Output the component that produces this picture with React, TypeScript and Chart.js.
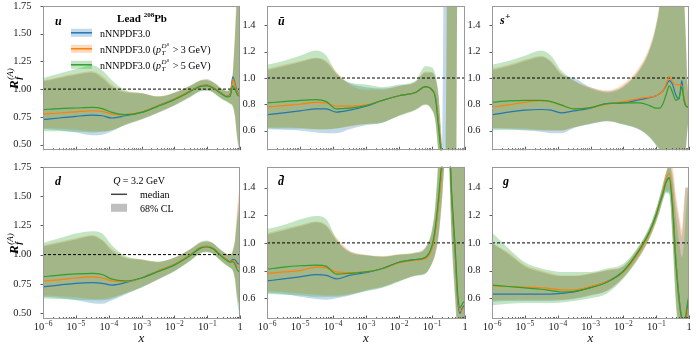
import React, { useEffect, useRef } from 'react';
import { Chart, registerables } from 'chart.js';

Chart.register(...registerables);

const FONT = '"Liberation Serif", "DejaVu Serif", serif';
Chart.defaults.font.family = FONT;

// ---------- x grid (log10 x = -6 ... 0) ----------
const X = [1e-6, 3.162e-6, 1e-5, 3.162e-5, 6.31e-5, 1.259e-4, 3.162e-4, 1e-3, 3.162e-3, 1e-2, 3.162e-2, 6.31e-2, 0.1, 0.1259, 0.1585, 0.1995, 0.2512, 0.3162, 0.3981, 0.5012, 0.6026, 0.7079, 0.7943, 0.8913, 1.0];

const X_TICKS = [1e-6, 1e-5, 1e-4, 1e-3, 1e-2, 1e-1, 1];
const X_TICK_BASE = ['10', '10', '10', '10', '10', '10', '1'];
const X_TICK_EXP = ['\u22126', '\u22125', '\u22124', '\u22123', '\u22122', '\u22121', ''];
const X_MINOR_MULT = [2, 3, 4, 5, 6, 7, 8, 9];
const REF_X = [1e-6, 1];
const REF_Y = [1, 1];
const Y_TICKS_WIDE = [0.5, 0.75, 1.0, 1.25, 1.5, 1.75];
const Y_TICKS_NARROW = [0.6, 0.8, 1.0, 1.2, 1.4];

const COLORS = ['#1f77b4', '#ff7f0e', '#2ca02c'];
const FILLS = ['rgba(31,119,180,0.28)', 'rgba(255,127,14,0.28)', 'rgba(44,160,44,0.28)'];

// ---------- u ----------
const U_BLUE_MID = [0.725, 0.74, 0.755, 0.765, 0.76, 0.74, 0.76, 0.79, 0.85, 0.91, 0.985, 1.03, 1.035, 1.025, 1.01, 0.99, 0.97, 0.95, 0.935, 0.95, 1.11, 1.05, 0.99, 0.96, 0.95];
const U_ORANGE_MID = [0.775, 0.785, 0.795, 0.805, 0.80, 0.775, 0.77, 0.795, 0.85, 0.91, 0.985, 1.03, 1.035, 1.025, 1.01, 0.99, 0.97, 0.95, 0.935, 0.945, 1.09, 1.035, 0.98, 0.955, 0.945];
const U_GREEN_MID = [0.815, 0.825, 0.83, 0.835, 0.825, 0.79, 0.77, 0.79, 0.845, 0.905, 0.98, 1.025, 1.03, 1.02, 1.005, 0.985, 0.965, 0.945, 0.93, 0.935, 1.03, 1.0, 0.96, 0.94, 0.935];
const U_BLUE_HI = [1.07, 1.10, 1.13, 1.15, 1.10, 1.02, 0.97, 0.96, 0.93, 0.965, 1.03, 1.075, 1.08, 1.07, 1.055, 1.035, 1.01, 0.99, 0.98, 1.0, 1.15, 1.5, 1.8, 1.95, 2.0];
const U_BLUE_LO = [0.64, 0.63, 0.61, 0.585, 0.59, 0.62, 0.68, 0.73, 0.79, 0.855, 0.935, 0.985, 0.99, 0.985, 0.97, 0.945, 0.925, 0.905, 0.89, 0.87, 0.85, 0.76, 0.62, 0.52, 0.45];
const U_ORANGE_HI = [1.08, 1.11, 1.14, 1.16, 1.12, 1.04, 0.98, 0.965, 0.935, 0.97, 1.035, 1.08, 1.085, 1.075, 1.06, 1.04, 1.015, 0.995, 0.985, 1.0, 1.15, 1.55, 1.85, 2.0, 2.0];
const U_ORANGE_LO = [0.65, 0.645, 0.635, 0.62, 0.62, 0.635, 0.68, 0.73, 0.79, 0.855, 0.935, 0.985, 0.99, 0.98, 0.965, 0.945, 0.925, 0.905, 0.89, 0.87, 0.85, 0.75, 0.6, 0.5, 0.45];
const U_GREEN_HI = [1.10, 1.14, 1.18, 1.215, 1.17, 1.08, 0.99, 0.965, 0.935, 0.97, 1.035, 1.08, 1.09, 1.08, 1.06, 1.04, 1.015, 0.995, 0.985, 1.0, 1.12, 1.45, 1.75, 1.9, 2.0];
const U_GREEN_LO = [0.62, 0.62, 0.615, 0.61, 0.615, 0.63, 0.675, 0.725, 0.785, 0.85, 0.93, 0.98, 0.985, 0.98, 0.965, 0.94, 0.92, 0.90, 0.885, 0.865, 0.84, 0.74, 0.58, 0.47, 0.40];

// ---------- ubar ----------
const UB_BLUE_MID = [0.72, 0.735, 0.75, 0.765, 0.765, 0.74, 0.755, 0.785, 0.83, 0.865, 0.89, 0.935, 0.91, 0.86, 0.65, 0.38, 0, 0, 0, 0, 0, 0, 0, 0, 0];
const UB_ORANGE_MID = [0.78, 0.79, 0.80, 0.815, 0.81, 0.785, 0.785, 0.795, 0.83, 0.865, 0.89, 0.935, 0.91, 0.86, 0.65, 0.38, 0, 0, 0, 0, 0, 0, 0, 0, 0];
const UB_GREEN_MID = [0.81, 0.82, 0.83, 0.835, 0.82, 0.765, 0.77, 0.79, 0.83, 0.865, 0.89, 0.935, 0.91, 0.85, 0.62, 0.35, 0, 0, 0, 0, 0, 0, 0, 0, 0];
const UB_BLUE_HI = [1.06, 1.09, 1.12, 1.15, 1.12, 1.03, 0.96, 0.93, 0.92, 0.94, 0.97, 1.04, 1.04, 1.0, 0.85, 0.5, 3, 3, 3, 3, 3, 3, 3, 3, 3];
const UB_BLUE_LO = [0.61, 0.605, 0.60, 0.585, 0.58, 0.58, 0.61, 0.64, 0.66, 0.715, 0.76, 0.80, 0.76, 0.68, 0.42, 0.1, -1, -1, -1, -1, 2, 2, 2, 2, 2];
const UB_ORANGE_HI = [1.07, 1.10, 1.13, 1.155, 1.13, 1.05, 0.95, 0.91, 0.91, 0.94, 0.97, 1.05, 1.045, 1.0, 0.85, 0.5, 0.2, 3, 3, 3, 3, 3, 3, 3, 3];
const UB_ORANGE_LO = [0.625, 0.625, 0.62, 0.61, 0.61, 0.615, 0.63, 0.65, 0.665, 0.715, 0.76, 0.80, 0.76, 0.68, 0.42, 0.1, -1, -1, -1, -1, 2, 2, 2, 2, 2];
const UB_GREEN_HI = [1.10, 1.13, 1.17, 1.21, 1.17, 1.04, 0.965, 0.95, 0.93, 0.95, 0.98, 1.09, 1.08, 1.03, 0.87, 0.5, 0.2, 3, 3, 3, 3, 3, 3, 3, 3];
const UB_GREEN_LO = [0.62, 0.615, 0.615, 0.61, 0.61, 0.615, 0.635, 0.65, 0.66, 0.71, 0.755, 0.795, 0.75, 0.67, 0.40, 0.08, -1, -1, -1, -1, 2, 2, 2, 2, 2];

// ---------- s+ ----------
const SP_BLUE_MID = [0.72, 0.74, 0.755, 0.76, 0.755, 0.735, 0.75, 0.77, 0.805, 0.81, 0.835, 0.85, 0.865, 0.88, 0.90, 0.94, 0.98, 0.95, 0.87, 0.84, 0.98, 0.83, 0.79, 0.78, 0.78];
const SP_ORANGE_MID = [0.78, 0.795, 0.815, 0.825, 0.82, 0.795, 0.765, 0.775, 0.80, 0.82, 0.845, 0.855, 0.865, 0.88, 0.90, 0.95, 1.01, 0.97, 0.95, 0.95, 0.94, 0.85, 0.80, 0.78, 0.78];
const SP_GREEN_MID = [0.815, 0.825, 0.83, 0.83, 0.82, 0.795, 0.765, 0.775, 0.805, 0.81, 0.81, 0.79, 0.77, 0.77, 0.80, 0.87, 0.94, 0.89, 0.83, 0.85, 0.93, 0.83, 0.79, 0.78, 0.78];
const SP_BLUE_HI = [1.06, 1.09, 1.13, 1.16, 1.12, 1.03, 1.0, 0.93, 0.90, 0.94, 1.07, 1.22, 1.40, 1.55, 1.9, 2, 2, 2, 2, 2, 2, 1.6, 1.3, 0.95, 0.85];
const SP_ORANGE_HI = [1.07, 1.10, 1.14, 1.17, 1.13, 1.04, 0.98, 0.93, 0.905, 0.955, 1.09, 1.24, 1.42, 1.57, 1.9, 2, 2, 2, 2, 2, 2, 1.65, 1.35, 1.0, 0.88];
const SP_GREEN_HI = [1.10, 1.13, 1.17, 1.21, 1.17, 1.06, 0.98, 0.92, 0.89, 0.93, 1.06, 1.21, 1.39, 1.55, 1.9, 2, 2, 2, 2, 2, 2, 1.6, 1.3, 0.95, 0.85];
const SP_BLUE_LO = [0.615, 0.61, 0.60, 0.59, 0.58, 0.58, 0.62, 0.65, 0.67, 0.645, 0.605, 0.55, 0.49, 0.46, 0.42, 0.38, 0.35, 0.3, 0.3, 0.3, 0.3, 0.35, 0.45, 0.6, 0.72];
const SP_ORANGE_LO = [0.62, 0.62, 0.615, 0.605, 0.60, 0.60, 0.625, 0.655, 0.675, 0.65, 0.61, 0.555, 0.495, 0.46, 0.42, 0.38, 0.35, 0.3, 0.3, 0.3, 0.3, 0.35, 0.45, 0.6, 0.72];
const SP_GREEN_LO = [0.60, 0.605, 0.605, 0.60, 0.60, 0.60, 0.625, 0.65, 0.67, 0.645, 0.605, 0.545, 0.485, 0.45, 0.42, 0.40, 0.44, 0.46, 0.42, 0.35, 0.3, 0.35, 0.45, 0.6, 0.72];

// ---------- d ----------
const D_BLUE_MID = [0.725, 0.74, 0.755, 0.76, 0.755, 0.74, 0.76, 0.80, 0.86, 0.915, 1.0, 1.06, 1.07, 1.065, 1.05, 1.025, 1.0, 0.975, 0.955, 0.94, 0.96, 0.955, 0.935, 0.92, 0.92];
const D_ORANGE_MID = [0.775, 0.785, 0.80, 0.81, 0.80, 0.775, 0.77, 0.80, 0.86, 0.915, 1.0, 1.06, 1.07, 1.065, 1.05, 1.025, 1.0, 0.975, 0.955, 0.94, 0.95, 0.935, 0.905, 0.89, 0.89];
const D_GREEN_MID = [0.81, 0.825, 0.835, 0.84, 0.83, 0.79, 0.775, 0.80, 0.855, 0.91, 0.995, 1.055, 1.065, 1.06, 1.045, 1.02, 0.995, 0.97, 0.95, 0.935, 0.94, 0.915, 0.88, 0.86, 0.85];
const D_BLUE_HI = [1.07, 1.10, 1.13, 1.16, 1.12, 1.03, 0.97, 0.955, 0.935, 0.97, 1.045, 1.10, 1.11, 1.105, 1.09, 1.065, 1.04, 1.02, 1.0, 0.99, 1.03, 1.12, 1.28, 1.42, 1.5];
const D_ORANGE_HI = [1.08, 1.11, 1.14, 1.165, 1.13, 1.05, 0.98, 0.96, 0.94, 0.975, 1.05, 1.105, 1.115, 1.11, 1.095, 1.07, 1.045, 1.025, 1.005, 0.995, 1.04, 1.15, 1.35, 1.5, 1.6];
const D_GREEN_HI = [1.10, 1.14, 1.18, 1.20, 1.18, 1.08, 0.99, 0.96, 0.94, 0.975, 1.05, 1.11, 1.12, 1.11, 1.095, 1.07, 1.045, 1.025, 1.005, 0.995, 1.03, 1.12, 1.25, 1.35, 1.4];
const D_BLUE_LO = [0.64, 0.63, 0.61, 0.585, 0.58, 0.61, 0.66, 0.72, 0.79, 0.86, 0.955, 1.015, 1.025, 1.02, 1.005, 0.98, 0.955, 0.93, 0.91, 0.89, 0.87, 0.80, 0.68, 0.60, 0.58];
const D_ORANGE_LO = [0.65, 0.645, 0.635, 0.62, 0.62, 0.635, 0.67, 0.725, 0.79, 0.86, 0.955, 1.015, 1.025, 1.02, 1.005, 0.98, 0.955, 0.93, 0.91, 0.89, 0.865, 0.79, 0.66, 0.58, 0.55];
const D_GREEN_LO = [0.625, 0.62, 0.615, 0.61, 0.61, 0.625, 0.665, 0.72, 0.785, 0.855, 0.95, 1.01, 1.02, 1.015, 1.0, 0.975, 0.95, 0.925, 0.905, 0.885, 0.86, 0.77, 0.63, 0.53, 0.50];

// ---------- dbar ----------
const DB_BLUE_MID = [0.725, 0.74, 0.755, 0.77, 0.765, 0.74, 0.765, 0.785, 0.815, 0.86, 0.88, 0.895, 0.97, 1.09, 1.30, 1.55, 1.8, 1.8, 1.30, 0.93, 0.58, 0.49, 0.52, 0.54, 0.55];
const DB_ORANGE_MID = [0.78, 0.79, 0.80, 0.825, 0.82, 0.79, 0.785, 0.79, 0.815, 0.855, 0.875, 0.885, 0.96, 1.08, 1.28, 1.53, 1.8, 1.8, 1.32, 0.95, 0.60, 0.51, 0.51, 0.53, 0.54];
const DB_GREEN_MID = [0.81, 0.825, 0.835, 0.84, 0.83, 0.775, 0.78, 0.79, 0.815, 0.86, 0.88, 0.895, 0.98, 1.11, 1.33, 1.60, 1.8, 1.8, 1.35, 0.98, 0.63, 0.53, 0.55, 0.57, 0.58];
const DB_BLUE_HI = [1.06, 1.09, 1.12, 1.15, 1.12, 1.02, 0.94, 0.91, 0.90, 0.915, 0.925, 0.96, 1.08, 1.25, 1.6, 2, 2, 2, 2, 2, 2, 2, 2, 2, 2];
const DB_ORANGE_HI = [1.07, 1.10, 1.13, 1.155, 1.13, 1.04, 0.945, 0.915, 0.905, 0.92, 0.93, 0.965, 1.09, 1.26, 1.6, 2, 2, 2, 2, 2, 2, 2, 2, 2, 2];
const DB_GREEN_HI = [1.10, 1.13, 1.17, 1.195, 1.17, 1.03, 0.93, 0.91, 0.90, 0.915, 0.93, 0.97, 1.10, 1.28, 1.65, 2, 2, 2, 2, 2, 2, 2, 2, 2, 2];
const DB_BLUE_LO = [0.64, 0.63, 0.61, 0.595, 0.59, 0.60, 0.62, 0.655, 0.68, 0.725, 0.765, 0.78, 0.85, 0.92, 1.05, 1.30, 1.6, 1.6, 1.0, 0.6, 0.35, 0.35, 0.35, 0.4, 0.45];
const DB_ORANGE_LO = [0.65, 0.645, 0.635, 0.625, 0.62, 0.62, 0.63, 0.66, 0.685, 0.725, 0.765, 0.78, 0.85, 0.91, 1.04, 1.28, 1.6, 1.6, 1.0, 0.6, 0.35, 0.35, 0.35, 0.4, 0.45];
const DB_GREEN_LO = [0.63, 0.625, 0.62, 0.61, 0.61, 0.61, 0.625, 0.65, 0.675, 0.72, 0.76, 0.775, 0.86, 0.93, 1.07, 1.32, 1.6, 1.6, 1.05, 0.65, 0.38, 0.35, 0.35, 0.4, 0.45];

// ---------- g ----------
const G_BLUE_MID = [0.63, 0.63, 0.63, 0.63, 0.63, 0.635, 0.645, 0.68, 0.72, 0.795, 0.95, 1.08, 1.20, 1.28, 1.36, 1.44, 1.47, 1.28, 0.88, 0.60, 0.45, 0.41, 0.44, 0.53, 0.60];
const G_ORANGE_MID = [0.69, 0.685, 0.68, 0.675, 0.67, 0.66, 0.66, 0.685, 0.72, 0.79, 0.94, 1.07, 1.19, 1.27, 1.36, 1.46, 1.50, 1.30, 0.88, 0.58, 0.44, 0.40, 0.42, 0.50, 0.56];
const G_GREEN_MID = [0.695, 0.685, 0.675, 0.665, 0.655, 0.645, 0.65, 0.675, 0.715, 0.795, 0.955, 1.08, 1.20, 1.28, 1.35, 1.44, 1.47, 1.25, 0.85, 0.58, 0.45, 0.43, 0.47, 0.56, 0.62];
const G_BLUE_HI = [1.0, 0.92, 0.83, 0.79, 0.77, 0.76, 0.76, 0.775, 0.80, 0.83, 0.98, 1.11, 1.24, 1.32, 1.41, 1.50, 1.56, 1.50, 1.30, 1.15, 1.05, 1.25, 1.4, 1.4, 1.4];
const G_ORANGE_HI = [1.0, 0.93, 0.84, 0.80, 0.78, 0.765, 0.765, 0.78, 0.805, 0.835, 0.985, 1.115, 1.245, 1.33, 1.42, 1.51, 1.58, 1.55, 1.35, 1.2, 1.1, 1.3, 1.4, 1.4, 1.4];
const G_GREEN_HI = [1.075, 0.96, 0.86, 0.815, 0.80, 0.79, 0.79, 0.79, 0.815, 0.85, 0.99, 1.12, 1.25, 1.33, 1.42, 1.51, 1.56, 1.45, 1.20, 1.0, 0.9, 1.0, 1.2, 1.35, 1.45];
const G_BLUE_LO = [0.575, 0.58, 0.58, 0.58, 0.58, 0.585, 0.595, 0.62, 0.655, 0.75, 0.91, 1.04, 1.16, 1.23, 1.31, 1.37, 1.36, 1.05, 0.6, 0.35, 0.3, 0.3, 0.3, 0.35, 0.4];
const G_ORANGE_LO = [0.585, 0.59, 0.59, 0.59, 0.59, 0.59, 0.60, 0.625, 0.655, 0.75, 0.905, 1.035, 1.155, 1.225, 1.31, 1.38, 1.38, 1.05, 0.6, 0.35, 0.3, 0.3, 0.3, 0.35, 0.4];
const G_GREEN_LO = [0.55, 0.56, 0.565, 0.565, 0.565, 0.57, 0.58, 0.60, 0.635, 0.74, 0.90, 1.03, 1.15, 1.22, 1.30, 1.36, 1.35, 1.0, 0.55, 0.33, 0.3, 0.3, 0.3, 0.35, 0.4];

type PanelDef = {
  name: string; row: number; col: number; ymin: number; ymax: number;
  yticks: number[]; dec: number; mid: number[][]; lo: number[][]; hi: number[][];
};

const PANELS: PanelDef[] = [
  { name: 'u', row: 0, col: 0, ymin: 0.45, ymax: 1.75, yticks: Y_TICKS_WIDE, dec: 2,
    mid: [U_BLUE_MID, U_ORANGE_MID, U_GREEN_MID], lo: [U_BLUE_LO, U_ORANGE_LO, U_GREEN_LO], hi: [U_BLUE_HI, U_ORANGE_HI, U_GREEN_HI] },
  { name: 'ubar', row: 0, col: 1, ymin: 0.45, ymax: 1.55, yticks: Y_TICKS_NARROW, dec: 1,
    mid: [UB_BLUE_MID, UB_ORANGE_MID, UB_GREEN_MID], lo: [UB_BLUE_LO, UB_ORANGE_LO, UB_GREEN_LO], hi: [UB_BLUE_HI, UB_ORANGE_HI, UB_GREEN_HI] },
  { name: 'splus', row: 0, col: 2, ymin: 0.45, ymax: 1.55, yticks: Y_TICKS_NARROW, dec: 1,
    mid: [SP_BLUE_MID, SP_ORANGE_MID, SP_GREEN_MID], lo: [SP_BLUE_LO, SP_ORANGE_LO, SP_GREEN_LO], hi: [SP_BLUE_HI, SP_ORANGE_HI, SP_GREEN_HI] },
  { name: 'd', row: 1, col: 0, ymin: 0.45, ymax: 1.75, yticks: Y_TICKS_WIDE, dec: 2,
    mid: [D_BLUE_MID, D_ORANGE_MID, D_GREEN_MID], lo: [D_BLUE_LO, D_ORANGE_LO, D_GREEN_LO], hi: [D_BLUE_HI, D_ORANGE_HI, D_GREEN_HI] },
  { name: 'dbar', row: 1, col: 1, ymin: 0.45, ymax: 1.55, yticks: Y_TICKS_NARROW, dec: 1,
    mid: [DB_BLUE_MID, DB_ORANGE_MID, DB_GREEN_MID], lo: [DB_BLUE_LO, DB_ORANGE_LO, DB_GREEN_LO], hi: [DB_BLUE_HI, DB_ORANGE_HI, DB_GREEN_HI] },
  { name: 'g', row: 1, col: 2, ymin: 0.45, ymax: 1.55, yticks: Y_TICKS_NARROW, dec: 1,
    mid: [G_BLUE_MID, G_ORANGE_MID, G_GREEN_MID], lo: [G_BLUE_LO, G_ORANGE_LO, G_GREEN_LO], hi: [G_BLUE_HI, G_ORANGE_HI, G_GREEN_HI] },
];

// ---------- layout ----------
const COLS = [{ l: 43, r: 240 }, { l: 267, r: 465 }, { l: 492, r: 689 }];
const ROWS = [{ t: 4, b: 158 }, { t: 165, b: 319 }];
const PAD_T = 8;
const PAD_R = 8;

function geom(p: PanelDef) {
  const c = COLS[p.col], r = ROWS[p.row];
  const leftW = p.col === 0 ? 43 : 40;
  const bottomH = p.row === 0 ? 2 : 348 - r.b;
  return {
    leftW, bottomH,
    l: c.l - leftW, t: r.t - PAD_T,
    w: leftW + (c.r - c.l) + PAD_R,
    h: PAD_T + (r.b - r.t) + bottomH,
  };
}

const pts = (arr: number[]) => X.map((x, i) => ({ x, y: arr[i] }));

function fnt(style: string, size: number) {
  return `${style} ${size}px ${FONT}`;
}

function seg(ctx: CanvasRenderingContext2D, text: string, font: string, x: number, y: number) {
  ctx.font = font;
  ctx.fillText(text, x, y);
  return ctx.measureText(text).width;
}

function width(ctx: CanvasRenderingContext2D, text: string, font: string) {
  ctx.font = font;
  return ctx.measureText(text).width;
}

function drawPT(ctx: CanvasRenderingContext2D, x: number, y: number, gev: string) {
  let cx = x;
  cx += seg(ctx, 'nNNPDF3.0 (', fnt('', 10), cx, y);
  cx += seg(ctx, 'p', fnt('italic', 10), cx, y);
  let ws = seg(ctx, 'D', fnt('italic', 7), cx + 0.5, y - 4.5);
  ws += seg(ctx, '0', fnt('', 5), cx + 0.5 + ws, y - 7);
  const wt = seg(ctx, 'T', fnt('italic', 7), cx + 0.5, y + 2.5);
  cx += Math.max(ws, wt) + 1.5;
  seg(ctx, ' > ' + gev + ' GeV)', fnt('', 10), cx, y);
}

function decor(p: PanelDef) {
  return {
    id: 'decor',
    afterDraw(chart: any) {
      const ctx: CanvasRenderingContext2D = chart.ctx;
      const a = chart.chartArea;
      const xs = chart.scales.x, ys = chart.scales.y;
      ctx.save();
      // tick marks
      ctx.strokeStyle = '#333';
      ctx.lineWidth = 0.8;
      ctx.beginPath();
      X_TICKS.forEach((v) => {
        const px = Math.round(xs.getPixelForValue(v)) + 0.5;
        ctx.moveTo(px, a.bottom); ctx.lineTo(px, a.bottom - 3.5);
      });
      X_TICKS.slice(0, -1).forEach((d) => X_MINOR_MULT.forEach((m) => {
        const px = Math.round(xs.getPixelForValue(d * m)) + 0.5;
        ctx.moveTo(px, a.bottom); ctx.lineTo(px, a.bottom - 2);
      }));
      p.yticks.forEach((v) => {
        const py = Math.round(ys.getPixelForValue(v)) + 0.5;
        ctx.moveTo(a.left, py); ctx.lineTo(a.left - 2.5, py);
      });
      ctx.stroke();
      // frame
      ctx.strokeStyle = '#9a9a9a';
      ctx.lineWidth = 1;
      ctx.strokeRect(Math.round(a.left) + 0.5, Math.round(a.top) + 0.5, Math.round(a.right - a.left) - 1, Math.round(a.bottom - a.top) - 1);

      const L = a.left, T = a.top;
      ctx.textBaseline = 'alphabetic';
      ctx.textAlign = 'left';

      // x tick labels (bottom row)
      if (p.row === 1) {
        ctx.fillStyle = '#222';
        X_TICKS.forEach((v, i) => {
          const px = xs.getPixelForValue(v);
          const fb = fnt('', 10.5), fe = fnt('', 7.5);
          const wb = width(ctx, X_TICK_BASE[i], fb);
          const we = X_TICK_EXP[i] ? width(ctx, X_TICK_EXP[i], fe) : 0;
          const x0 = px - (wb + we) / 2;
          seg(ctx, X_TICK_BASE[i], fb, x0, a.bottom + 11);
          if (we) seg(ctx, X_TICK_EXP[i], fe, x0 + wb + 0.3, a.bottom + 6.5);
        });
      }

      ctx.fillStyle = '#000';
      const lab = fnt('bold italic', 12);
      // panel labels
      if (p.name === 'u') seg(ctx, 'u', lab, L + 12, T + 19);
      if (p.name === 'ubar') seg(ctx, 'ū', lab, L + 11, T + 19);
      if (p.name === 'splus') {
        const w = seg(ctx, 's', lab, L + 8, T + 18);
        seg(ctx, '+', fnt('bold', 9), L + 8 + w + 0.5, T + 13);
      }
      if (p.name === 'd') seg(ctx, 'd', lab, L + 12, T + 18);
      if (p.name === 'dbar') seg(ctx, 'd\u0304', lab, L + 11, T + 18);
      if (p.name === 'g') seg(ctx, 'g', lab, L + 11, T + 18);

      // legend: fits
      if (p.name === 'u') {
        const w1 = width(ctx, 'Lead ', fnt('bold', 11));
        const w2 = width(ctx, '208', fnt('bold', 7));
        const w3 = width(ctx, 'Pb', fnt('bold', 11));
        let cx = L + 99 - (w1 + w2 + w3) / 2;
        cx += seg(ctx, 'Lead ', fnt('bold', 11), cx, T + 16);
        cx += seg(ctx, '208', fnt('bold', 7), cx, T + 11.5);
        seg(ctx, 'Pb', fnt('bold', 11), cx, T + 16);
        const gevs = ['', '3', '5'];
        for (let i = 0; i < 3; i++) {
          const yc = T + 27 + 16 * i;
          ctx.fillStyle = FILLS[i];
          ctx.fillRect(L + 28, yc - 4, 21, 8);
          ctx.strokeStyle = COLORS[i];
          ctx.lineWidth = 1.5;
          ctx.beginPath(); ctx.moveTo(L + 28, yc); ctx.lineTo(L + 49, yc); ctx.stroke();
          ctx.fillStyle = '#000';
          if (i === 0) seg(ctx, 'nNNPDF3.0', fnt('', 10), L + 57, yc + 4);
          else drawPT(ctx, L + 57, yc + 4, gevs[i]);
        }
      }
      // legend: scale / median / CL
      if (p.name === 'd') {
        const wq = width(ctx, 'Q', fnt('italic', 10));
        const wr = width(ctx, ' = 3.2 GeV', fnt('', 10));
        let cx = L + 96 - (wq + wr) / 2;
        cx += seg(ctx, 'Q', fnt('italic', 10), cx, T + 17);
        seg(ctx, ' = 3.2 GeV', fnt('', 10), cx, T + 17);
        ctx.strokeStyle = '#444';
        ctx.lineWidth = 1.5;
        ctx.beginPath(); ctx.moveTo(L + 68, T + 27.5); ctx.lineTo(L + 84, T + 27.5); ctx.stroke();
        seg(ctx, 'median', fnt('', 10), L + 97, T + 31);
        ctx.fillStyle = 'rgba(128,128,128,0.5)';
        ctx.fillRect(L + 68, T + 37, 16, 8);
        ctx.fillStyle = '#000';
        seg(ctx, '68% CL', fnt('', 10), L + 97, T + 45.5);
      }
      // y title
      if (p.col === 0) {
        const my = (a.top + a.bottom) / 2;
        ctx.translate(L - 30, my);
        ctx.rotate(-Math.PI / 2);
        let cx = -11;
        cx += seg(ctx, 'R', fnt('bold italic', 13), cx, 5);
        seg(ctx, '(A)', fnt('italic', 9), cx + 0.5, -0.5);
        seg(ctx, 'f', fnt('bold italic', 9), cx + 0.5, 7.5);
      }
      ctx.restore();
    },
  };
}

function buildConfig(p: PanelDef) {
  const g = geom(p);
  const datasets: any[] = [];
  for (let i = 0; i < 3; i++) {
    datasets.push({ data: pts(p.lo[i]), borderWidth: 0, borderColor: 'rgba(0,0,0,0)', pointRadius: 0, fill: false, order: 10 - i, cubicInterpolationMode: 'monotone' });
    datasets.push({ data: pts(p.hi[i]), borderWidth: 0, borderColor: 'rgba(0,0,0,0)', pointRadius: 0, fill: '-1', backgroundColor: FILLS[i], order: 10 - i, cubicInterpolationMode: 'monotone' });
  }
  datasets.push({ data: REF_X.map((x, i) => ({ x, y: REF_Y[i] })), borderColor: '#000', borderWidth: 1, borderDash: [3, 2], pointRadius: 0, fill: false, order: 4 });
  for (let i = 0; i < 3; i++) {
    datasets.push({ data: pts(p.mid[i]), borderColor: COLORS[i], borderWidth: 1.2, pointRadius: 0, fill: false, order: 3 - i, cubicInterpolationMode: 'monotone' });
  }
  return {
    type: 'line' as const,
    data: { datasets },
    options: {
      animation: false as const,
      responsive: false,
      events: [],
      layout: { padding: { left: 0, top: PAD_T, right: PAD_R, bottom: p.row === 0 ? 2 : 0 } },
      plugins: { legend: { display: false }, tooltip: { enabled: false } },
      scales: {
        x: {
          type: 'logarithmic' as const, min: 1e-6, max: 1,
          display: p.row === 1,
          grid: { display: false }, border: { display: false },
          afterBuildTicks: (s: any) => { s.ticks = X_TICKS.map((v) => ({ value: v })); },
          ticks: { display: false },
          title: { display: true, text: 'x', color: '#111', font: { style: 'italic' as const, size: 13 }, padding: { top: 0, bottom: 2 } },
          afterFit: (s: any) => { s.height = g.bottomH; },
        },
        y: {
          type: 'linear' as const, min: p.ymin, max: p.ymax,
          grid: { display: false }, border: { display: false },
          afterBuildTicks: (s: any) => { s.ticks = p.yticks.map((v) => ({ value: v })); },
          ticks: { padding: 3.5, color: '#222', font: { size: 10.5 }, callback: (v: any) => Number(v).toFixed(p.dec) },
          afterFit: (s: any) => { s.width = g.leftW; },
        },
      },
    },
    plugins: [decor(p)],
  };
}

function Panel({ p }: { p: PanelDef }) {
  const ref = useRef<HTMLCanvasElement>(null);
  const g = geom(p);
  useEffect(() => {
    const chart = new Chart(ref.current as HTMLCanvasElement, buildConfig(p) as any);
    return () => chart.destroy();
  }, [p]);
  return (
    <canvas ref={ref} width={g.w} height={g.h}
      style={{ position: 'absolute', left: g.l, top: g.t, width: g.w, height: g.h }} />
  );
}

export default function App() {
  return (
    <div style={{ position: 'absolute', left: 0, top: 0, width: 696, height: 348, background: '#fff', overflow: 'hidden' }}>
      {PANELS.map((p) => <Panel key={p.name} p={p} />)}
    </div>
  );
}
